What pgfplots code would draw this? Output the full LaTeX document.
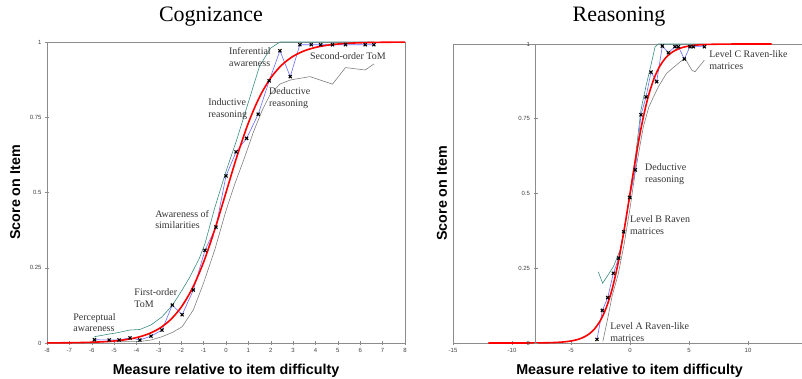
\documentclass[border=0pt]{standalone}
\usepackage{fontspec}
\setmainfont{Liberation Sans}
\newfontfamily\serif{Liberation Serif}
\usepackage{pgfplots}
\pgfplotsset{compat=1.18}
\definecolor{tealc}{HTML}{3C8C82}
\definecolor{bluec}{HTML}{6A6AFF}
\definecolor{axgray}{HTML}{8C8C8C}
\definecolor{grayc}{HTML}{808080}
\tikzset{ann/.style={font=\serif\fontsize{10}{11.5}\selectfont, align=left, anchor=west, inner sep=0pt, text=black!80}}
\begin{document}
\begin{tikzpicture}
\useasboundingbox (0,0) rectangle (802pt,378pt);
\pgfplotsset{
  common/.style={scale only axis, anchor=south west,
    axis line style={axgray}, tick style={axgray, line width=0.5pt},
    major tick length=4pt, tick align=center, tick pos=left, ymin=0, ymax=1,
    tick label style={font=\fontsize{6}{7}\selectfont, text=black!75},
    /pgf/number format/assume math mode=true,
    label style={font=\bfseries\fontsize{14.3}{16}\selectfont},
    title style={font=\serif\fontsize{22}{24}\selectfont, anchor=base}},
  redc/.style={red, line width=1.6pt, smooth, no marks},
  obs/.style={bluec, line width=0.6pt, mark=x, mark size=2.2pt, mark options={black, line width=1.1pt, solid}},
  upc/.style={tealc, line width=0.6pt, no marks},
  loc/.style={grayc, line width=0.6pt, no marks}
}
% ---------------- Cognizance ----------------
\begin{axis}[common, at={(47pt,35pt)}, width=358pt, height=301pt,
  xmin=-8, xmax=8, xtick={-8,-7,...,8}, ytick={0,0.25,0.5,0.75,1},
  title=Cognizance, title style={at={(axis description cs:0.458,1.0475)}},
  xlabel={Measure relative to item difficulty},
  xlabel style={at={(axis description cs:0.5,-0.103)}, anchor=base},
  ylabel={Score on Item},
  ylabel style={at={(axis description cs:-0.0754,0.5)}, anchor=base}]
\addplot[upc] coordinates {(-5.88,0.021) (-5.2,0.03) (-4.8,0.035) (-4.3,0.043) (-3.85,0.045) (-3.35,0.06) (-2.86,0.087) (-2.4,0.125) (-1.96,0.176) (-1.61,0.22) (-1.2,0.28) (-0.94,0.33) (-0.5,0.45) (0,0.57) (0.5,0.68) (1,0.8) (1.5,0.92) (2,0.98) (2.41,1.0) (6.61,1.0)};
\addplot[loc] coordinates {(-5.88,0.004) (-4.8,0.004) (-3.85,0.005) (-3.35,0.01) (-2.86,0.021) (-2.4,0.035) (-1.96,0.054) (-1.46,0.11) (-1.0,0.2) (-0.5,0.31) (0,0.44) (0.4,0.53) (0.8,0.61) (1.22,0.70) (1.6,0.77) (1.96,0.824) (2.4,0.86) (2.89,0.874) (3.75,0.885) (4.76,0.86) (5.34,0.915) (6.22,0.907) (6.61,0.927)};
\addplot[obs] coordinates {(-5.88,0.011) (-5.22,0.01) (-4.78,0.01) (-4.29,0.017) (-3.85,0.01) (-3.35,0.023) (-2.86,0.043) (-2.40,0.126) (-1.96,0.094) (-1.46,0.176) (-0.94,0.308) (-0.45,0.385) (0,0.555) (0.45,0.635) (0.92,0.68) (1.44,0.76) (1.93,0.871) (2.41,0.971) (2.87,0.885) (3.30,0.991) (3.81,0.991) (4.23,0.991) (4.76,0.991) (5.34,0.991) (6.22,0.991) (6.61,0.991)};
\addplot[redc] coordinates {(-8,0.0003) (-7.5,0.0006) (-7,0.0009) (-6.5,0.0015) (-6,0.0025) (-5.5,0.0041) (-5,0.0067) (-4.5,0.011) (-4,0.018) (-3.5,0.0293) (-3,0.0474) (-2.5,0.0759) (-2,0.1192) (-1.5,0.1824) (-1,0.2689) (-0.5,0.3775) (0,0.5) (0.5,0.6225) (1,0.7311) (1.5,0.8176) (2,0.8808) (2.5,0.9241) (3,0.9526) (3.5,0.9707) (4,0.982) (4.5,0.989) (5,0.9933) (5.5,0.9959) (6,0.9975) (6.5,0.9985) (7,0.9991) (7.5,0.9994) (8,0.9997)};
\node[ann] at (axis cs:-6.83,0.068) {Perceptual\\awareness};
\node[ann] at (axis cs:-4.1,0.15) {First-order\\ToM};
\node[ann] at (axis cs:-3.17,0.41) {Awareness of\\similarities};
\node[ann] at (axis cs:-0.8,0.777) {Inductive\\reasoning};
\node[ann] at (axis cs:0.13,0.95) {Inferential\\awareness};
\node[ann] at (axis cs:1.92,0.814) {Deductive\\reasoning};
\node[ann] at (axis cs:3.75,0.953) {Second-order ToM};
\end{axis}
% ---------------- Reasoning ----------------
\begin{axis}[common, at={(453pt,35pt)}, width=354pt, height=299pt,
  xmin=-15, xmax=15, xtick={-15,-10,...,10}, ytick=\empty,
  title=Reasoning, title style={at={(axis description cs:0.469,1.0545)}},
  xlabel={Measure relative to item difficulty},
  xlabel style={at={(axis description cs:0.4986,-0.1037)}, anchor=base},
  ylabel={Score on Item},
  ylabel style={at={(axis description cs:-0.0172,0.5)}, anchor=base}]
\addplot[upc] coordinates {(-2.69,0.238) (-2.32,0.2) (-1.9,0.225) (-1.41,0.255) (-0.85,0.31) (-0.42,0.39) (0,0.5) (0.45,0.62) (0.93,0.78) (1.36,0.86) (1.78,0.93) (2.12,0.99) (2.4,1.0) (6.3,1.0)};
\addplot[loc] coordinates {(-2.3,0.005) (-1.9,0.08) (-1.5,0.16) (-1.0,0.23) (-0.5,0.33) (0,0.45) (0.4,0.56) (0.8,0.65) (1.13,0.723) (1.6,0.79) (2.4,0.857) (3.1,0.902) (4.24,0.94) (4.66,0.952) (5.23,0.913) (5.5,0.907) (6.08,0.935) (6.3,0.946)};
\addplot[obs] coordinates {(-2.80,0.012) (-2.34,0.109) (-1.89,0.152) (-1.41,0.233) (-0.96,0.284) (-0.54,0.372) (-0.03,0.487) (0.45,0.579) (0.93,0.763) (1.36,0.823) (1.78,0.906) (2.26,0.874) (2.74,0.993) (3.25,0.971) (3.81,0.991) (4.10,0.991) (4.60,0.95) (5.08,0.991) (5.37,0.991) (6.30,0.991)};
\addplot[redc] coordinates {(-12,0.00001) (-11,0.00002) (-10,0.00005) (-9,0.00012) (-8.5,0.0002) (-8,0.0003) (-7.5,0.0006) (-7,0.0009) (-6.5,0.0015) (-6,0.0025) (-5.5,0.0041) (-5,0.0067) (-4.5,0.011) (-4,0.018) (-3.5,0.0293) (-3,0.0474) (-2.5,0.0759) (-2,0.1192) (-1.5,0.1824) (-1,0.2689) (-0.5,0.3775) (0,0.5) (0.5,0.6225) (1,0.7311) (1.5,0.8176) (2,0.8808) (2.5,0.9241) (3,0.9526) (3.5,0.9707) (4,0.982) (4.5,0.989) (5,0.9933) (5.5,0.9959) (6,0.9975) (6.5,0.9985) (7,0.9991) (7.5,0.9994) (8,0.9997) (9,0.9999) (10,1) (11,1) (12,1)};
\node[ann] at (axis cs:6.7,0.946) {Level C Raven-like\\matrices};
\node[ann] at (axis cs:1.27,0.565) {Deductive\\reasoning};
\node[ann] at (axis cs:0.0,0.395) {Level B Raven\\matrices};
\node[ann] at (axis cs:-1.69,0.037) {Level A Raven-like\\matrices};
\end{axis}
% inner y axis of the Reasoning panel, at x = -8
\begin{axis}[common, at={(535.6pt,35pt)}, width=271.4pt, height=299pt,
  xmin=-8, xmax=15, hide x axis, axis y line*=left,
  ytick={0,0.25,0.5,0.75,1}]
\end{axis}
\end{tikzpicture}
\end{document}
